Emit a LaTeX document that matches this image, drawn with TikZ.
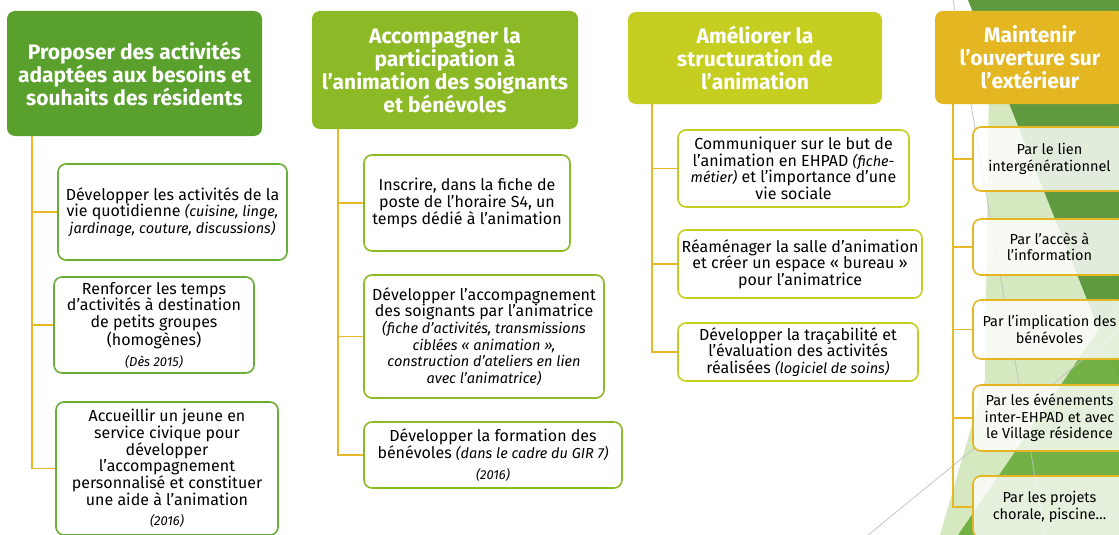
\documentclass[tikz,border=0pt]{standalone}
\usepackage{fontspec}
\setmainfont{Fira Sans}
\usetikzlibrary{positioning}

\definecolor{headA}{HTML}{5AA02C}
\definecolor{headB}{HTML}{8CBA26}
\definecolor{headC}{HTML}{C6CF21}
\definecolor{headD}{HTML}{E4B722}
\definecolor{rimA}{HTML}{6AAE38}
\definecolor{linkgold}{HTML}{E8B926}
\definecolor{bgdark}{HTML}{5F9A3E}
\definecolor{bgmid}{HTML}{6EAF40}
\definecolor{bglight}{HTML}{D6E8C0}

% year note under an action
\newcommand{\when}[1]{\\[4pt]{\fontsize{13}{14}\selectfont\itshape #1}}
% smaller italic detail
\newcommand{\aside}[1]{{\fontsize{14.5}{15}\selectfont\itshape #1}}

\begin{document}
\begin{tikzpicture}[x=1pt,y=-1pt]
\tikzset{
  header/.style={rounded corners=8pt,inner sep=2pt,align=center,text=white,
    font=\fontsize{21}{23}\selectfont\bfseries},
  item/.style={draw,line width=1.6pt,rounded corners=8pt,fill=white,inner sep=2pt,
    align=center,font=\fontsize{16}{16.7}\selectfont},
  glassitem/.style={item,fill opacity=0.82,text opacity=1,draw opacity=1,
    font=\fontsize{14.5}{16.5}\selectfont},
  link/.style={draw=linkgold,line width=1.8pt},
  facet/.style={draw=none}
}
\fill[white] (0,0) rectangle (1119,535);
\clip (0,0) rectangle (1119,535);

% facets on the right edge
\fill[facet,bglight] (990,0) -- (1119,0) -- (1119,535) -- (940,535) -- (985,380) -- cycle;
\fill[facet,bgdark] (968,0) -- (1119,0) -- (1119,380) -- cycle;
\fill[facet,bgmid,opacity=0.95] (958,535) -- (1119,300) -- (1119,535) -- cycle;
\draw[black!25,line width=0.7pt] (953,0) -- (1045,535);
\draw[black!25,line width=0.7pt] (862,540) -- (1119,330);

% column 1
\node[header,fill=headA,minimum width=255pt,minimum height=125pt] (h1) at (134.5,73.5)
  {Proposer des activités\\adaptées aux besoins et\\souhaits des résidents};
\node[item,draw=rimA,minimum width=229pt,minimum height=96pt] (c1_1) at (172.5,212)
  {Développer les activités de la\\vie quotidienne \aside{(cuisine, linge,}\\\aside{jardinage, couture, discussions)}};
\node[item,draw=rimA,minimum width=200pt,minimum height=96pt] (c1_2) at (154,325)
  {Renforcer les temps\\d’activités à destination\\de petits groupes\\(homogènes)\when{(Dès 2015)}};
\node[item,draw=rimA,minimum width=222pt,minimum height=133pt] (c1_3) at (167,468.5)
  {Accueillir un jeune en\\service civique pour\\développer\\l’accompagnement\\personnalisé et constituer\\une aide à l’animation\when{(2016)}};

% column 2
\node[header,fill=headB,minimum width=266pt,minimum height=118pt] (h2) at (445,70)
  {Accompagner la\\participation à\\l’animation des soignants\\et bénévoles};
\node[item,draw=headB,minimum width=206pt,minimum height=96pt] (c2_1) at (467,203)
  {Inscrire, dans la fiche de\\poste de l’horaire S4, un\\temps dédié à l’animation};
\node[item,draw=headB,minimum width=240pt,minimum height=123pt] (c2_2) at (484,336.5)
  {Développer l’accompagnement\\des soignants par l’animatrice\\\aside{(fiche d’activités, transmissions}\\\aside{ciblées « animation »,}\\\aside{construction d’ateliers en lien}\\\aside{avec l’animatrice)}};
\node[item,draw=headB,minimum width=258pt,minimum height=66pt] (c2_3) at (493,455)
  {Développer la formation des\\bénévoles \aside{(dans le cadre du GIR 7)}\when{(2016)}};

% column 3
\node[header,fill=headC,minimum width=254pt,minimum height=92pt] (h3) at (755,58)
  {Améliorer la\\structuration de\\l’animation};
\node[item,draw=headC,minimum width=231pt,minimum height=77pt] (c3_1) at (793.5,168.5)
  {Communiquer sur le but de\\l’animation en EHPAD \aside{(fiche-}\\\aside{métier)} et l’importance d’une\\vie sociale};
\node[item,draw=headC,minimum width=244pt,minimum height=68pt] (c3_2) at (800,264)
  {Réaménager la salle d’animation\\et créer un espace « bureau »\\pour l’animatrice};
\node[item,draw=headC,minimum width=240pt,minimum height=58pt] (c3_3) at (798,352)
  {Développer la traçabilité et\\l’évaluation des activités\\réalisées \aside{(logiciel de soins)}};

% column 4
\node[header,fill=headD,minimum width=190pt,minimum height=93pt] (h4) at (1030,57.5)
  {Maintenir\\l’ouverture sur\\l’extérieur};
\node[glassitem,draw=headD,minimum width=153pt,minimum height=64pt] (c4_1) at (1049.5,159)
  {Par le lien\\intergénérationnel};
\node[glassitem,draw=headD,minimum width=153pt,minimum height=56pt] (c4_2) at (1049.5,247)
  {Par l’accès à\\l’information};
\node[glassitem,draw=headD,minimum width=153pt,minimum height=59pt] (c4_3) at (1049.5,329.5)
  {Par l’implication des\\bénévoles};
\node[glassitem,draw=headD,minimum width=153pt,minimum height=66pt] (c4_4) at (1049.5,418)
  {Par les événements\\inter-EHPAD et avec\\le Village résidence};
\node[glassitem,draw=headD,minimum width=153pt,minimum height=62pt] (c4_5) at (1049.5,507)
  {Par les projets\\chorale, piscine…};

% tree links
\foreach \k in {1,2,3}
  \draw[link] ([xshift=25pt]h1.south west) |- (c1_\k.west);
\foreach \k in {1,2,3}
  \draw[link] ([xshift=26pt]h2.south west) |- (c2_\k.west);
\foreach \k in {1,2,3}
  \draw[link] ([xshift=24pt]h3.south west) |- (c3_\k.west);
\foreach \k in {1,...,5}
  \draw[link] ([xshift=18pt]h4.south west) |- (c4_\k.west);
\end{tikzpicture}
\end{document}
